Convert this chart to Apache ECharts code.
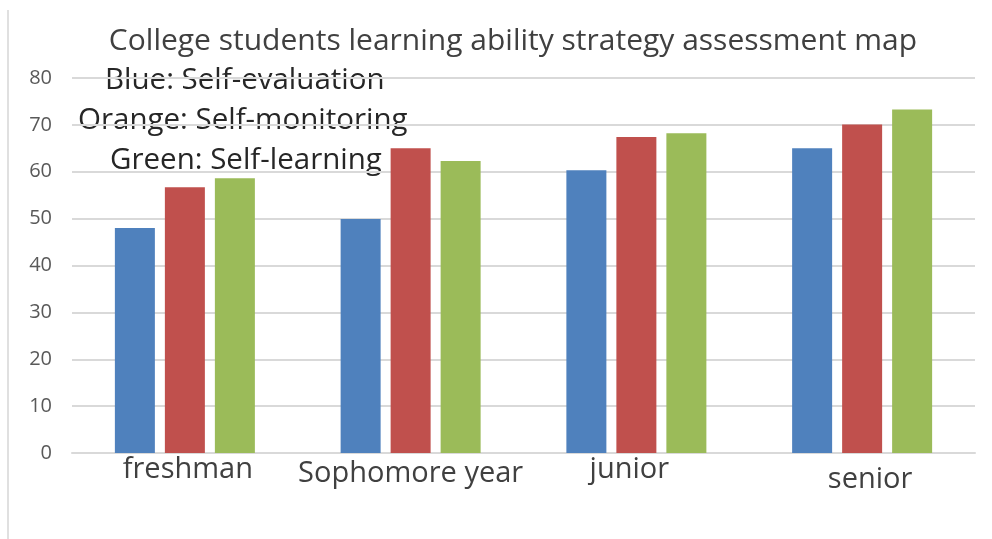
<!DOCTYPE html>
<html>
<head>
<meta charset="utf-8">
<script src="https://cdn.jsdelivr.net/npm/echarts@6/dist/echarts.min.js"></script>
<style>
  html, body { margin: 0; padding: 0; background: #fff; }
  #chart { width: 992px; height: 539px; }
</style>
</head>
<body>
<div id="chart"></div>
<script>
// data
var categories = ['freshman', 'Sophomore year', 'junior', 'senior'];
var selfEvaluation = [48.0, 49.9, 60.3, 65.0];
var selfMonitoring = [56.7, 65.0, 67.4, 70.1];
var selfLearning = [58.6, 62.3, 68.2, 73.3];
var yTicks = [0, 10, 20, 30, 40, 50, 60, 70, 80];

var chart = echarts.init(document.getElementById('chart'));

// the category labels sit a bit unevenly in the original: [dx, dy]
var labelShift = [[3, 0], [0, 2], [-7, 0], [8, 5]];

var catData = categories.map(function (c, i) {
    var dx = labelShift[i][0], dy = labelShift[i][1];
    return {
        value: c,
        textStyle: {
            padding: [Math.max(dy, 0) * 2, Math.max(-dx, 0) * 2, 0, Math.max(dx, 0) * 2]
        }
    };
});

var option = {
    backgroundColor: '#fff',
    animation: false,
    title: {
        text: 'College students learning ability strategy assessment map',
        left: 508,
        top: 21,
        textAlign: 'center',
        textStyle: { fontFamily: 'Open Sans', fontSize: 30, fontWeight: 'normal', color: '#404040' }
    },
    grid: { left: 72, right: 17, top: 78, bottom: 86 },
    xAxis: {
        type: 'category',
        data: catData,
        axisLine: { lineStyle: { color: '#d9d9d9', width: 2 } },
        axisTick: { show: false },
        axisLabel: {
            interval: 0,
            margin: 2,
            fontFamily: 'Open Sans',
            fontSize: 29,
            color: '#404040'
        }
    },
    yAxis: {
        type: 'value',
        min: yTicks[0],
        max: yTicks[yTicks.length - 1],
        interval: 10,
        axisLine: { show: false },
        axisTick: { show: false },
        splitLine: { lineStyle: { color: '#d9d9d9', width: 2 } },
        axisLabel: { margin: 20, fontFamily: 'Open Sans', fontSize: 20, color: '#595959' }
    },
    series: [
        { name: 'Self-evaluation', type: 'bar', data: selfEvaluation, barWidth: 40, barGap: '25%',
          itemStyle: { color: '#4f81bd' } },
        { name: 'Self-monitoring', type: 'bar', data: selfMonitoring, barWidth: 40, barGap: '25%',
          itemStyle: { color: '#c0504d' } },
        { name: 'Self-learning', type: 'bar', data: selfLearning, barWidth: 40, barGap: '25%',
          itemStyle: { color: '#9bbb59' } }
    ],
    graphic: [
        { type: 'line', shape: { x1: 8, y1: 10, x2: 8, y2: 539 }, style: { stroke: '#e0e0e0', lineWidth: 2 } },
        { type: 'text', left: 105, top: 66, style: { text: 'Blue: Self-evaluation', font: '29.5px "Open Sans"', fill: '#262626' } },
        { type: 'text', left: 78, top: 106, style: { text: 'Orange: Self-monitoring', font: '29.5px "Open Sans"', fill: '#262626' } },
        { type: 'text', left: 110, top: 146, style: { text: 'Green: Self-learning', font: '29.5px "Open Sans"', fill: '#262626' } }
    ]
};

chart.setOption(option);
</script>
</body>
</html>
